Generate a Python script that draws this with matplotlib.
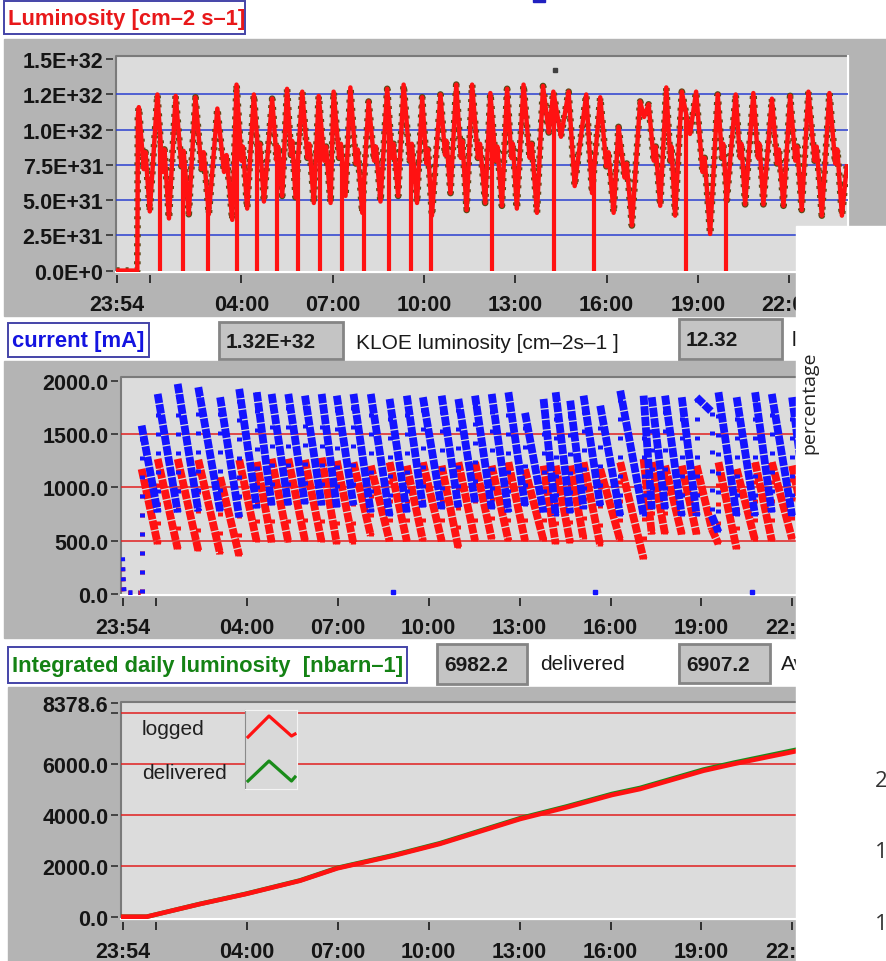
import numpy as np
import matplotlib
matplotlib.use("Agg")
import matplotlib.pyplot as plt
from matplotlib.patches import Rectangle

plt.rcParams["font.family"] = ["Liberation Sans", "DejaVu Sans"]

# time axis: hours after 23:54
time_ticks = [0, 1.1, 4.1, 7.1, 10.1, 13.1, 16.1, 19.1, 22.1]
time_labels = ["23:54", "", "04:00", "07:00", "10:00", "13:00", "16:00", "19:00", "22:00"]

# KLOE luminosity trace, in units of 1E+32 cm-2 s-1
lumi_hours = [0.00, 0.68, 0.70, 0.73, 0.89, 0.95, 1.09, 1.34, 1.51, 1.57, 1.72, 1.94, 2.13, 2.20,
              2.37, 2.59, 2.79, 2.86, 3.03, 3.31, 3.53, 3.61, 3.80, 3.94, 4.10, 4.15, 4.29, 4.51,
              4.66, 4.71, 4.84, 5.11, 5.26, 5.31, 5.44, 5.60, 5.73, 5.77, 5.88, 6.10, 6.27, 6.33,
              6.48, 6.64, 6.82, 6.88, 7.03, 7.13, 7.31, 7.37, 7.52, 7.68, 7.86, 7.92, 8.07, 8.28,
              8.46, 8.52, 8.67, 8.89, 9.05, 9.10, 9.25, 9.43, 9.63, 9.70, 9.87, 10.04, 10.18, 10.23,
              10.36, 10.64, 10.79, 10.84, 10.97, 11.16, 11.31, 11.36, 11.50, 11.68, 11.87, 11.94,
              12.11, 12.28, 12.45, 12.51, 12.66, 12.83, 12.97, 13.02, 13.15, 13.37, 13.57, 13.64,
              13.81, 14.01, 14.20, 14.35, 14.60, 14.85, 15.05, 15.43, 15.62, 15.89, 16.09, 16.16,
              16.33, 16.49, 16.69, 16.76, 16.93, 17.20, 17.33, 17.48, 17.65, 17.71, 17.86, 18.06,
              18.19, 18.23, 18.35, 18.57, 18.84, 19.04, 19.25, 19.32, 19.50, 19.75, 19.89, 19.93,
              20.05, 20.34, 20.48, 20.53, 20.65, 20.92, 21.07, 21.12, 21.25, 21.53, 21.70, 21.76,
              21.91, 22.13, 22.30, 22.36, 22.51, 22.73, 22.93, 23.00, 23.17, 23.42, 23.61, 23.68,
              23.83, 23.99]
lumi_e32 = [0.0, 0.0, 1.10, 1.16, 0.72, 0.84, 0.42, 1.25, 0.70, 0.86, 0.37, 1.24, 0.74, 0.85,
            0.40, 1.23, 0.72, 0.84, 0.40, 1.15, 0.70, 0.82, 0.36, 1.32, 0.78, 0.88, 0.44, 1.25,
            0.80, 0.90, 0.49, 1.22, 0.78, 0.88, 0.53, 1.29, 0.82, 0.92, 0.52, 1.27, 0.80, 0.90,
            0.48, 1.24, 0.78, 0.88, 0.48, 1.27, 0.80, 0.90, 0.53, 1.30, 0.76, 0.86, 0.41, 1.20,
            0.78, 0.88, 0.49, 1.29, 0.80, 0.90, 0.53, 1.32, 0.78, 0.90, 0.48, 1.23, 0.76, 0.86,
            0.39, 1.25, 0.82, 0.92, 0.55, 1.32, 0.80, 0.92, 0.43, 1.32, 0.80, 0.90,
            0.48, 1.26, 0.78, 0.88, 0.46, 1.29, 0.80, 0.90, 0.44, 1.32, 0.80, 0.90,
            0.41, 1.31, 0.98, 1.27, 0.95, 1.27, 0.60, 1.25, 0.55, 1.23, 0.74, 0.84,
            0.41, 1.02, 0.66, 0.76, 0.32, 1.20, 1.09, 1.18, 0.78, 0.88, 0.46, 1.30,
            0.78, 0.88, 0.39, 1.27, 0.97, 1.27, 0.70, 0.80, 0.26, 1.25, 0.80, 0.90,
            0.50, 1.25, 0.80, 0.90, 0.47, 1.26, 0.80, 0.90, 0.47, 1.22, 0.76, 0.86,
            0.46, 1.24, 0.78, 0.88, 0.43, 1.27, 0.78, 0.88, 0.39, 1.26, 0.76, 0.86,
            0.39, 0.74]
# moments where the luminosity reading dropped to zero
lumi_zero_hours = [1.42, 2.17, 3.00, 3.94, 4.60, 5.28, 5.97, 6.67, 7.41, 8.12, 8.95,
                   9.67, 10.33, 12.34, 14.36, 15.69, 18.71, 20.03]
lumi_spike_hours = [14.41]
lumi_spike_e32 = [1.424]

# beam currents per fill [mA]: value after injection and value at the next injection
fill_hours = [0.63, 1.16, 1.82, 2.50, 3.22, 3.85, 4.43, 4.92, 5.47, 6.02, 6.57, 7.07,
              7.62, 8.19, 8.81, 9.38, 9.91, 10.53, 11.08, 11.63, 12.18, 12.73, 13.28, 13.89, 14.29,
              14.77, 15.21, 15.76, 16.42, 17.19, 17.46, 17.90, 18.45, 18.94, 19.44, 19.66,
              20.26, 20.87, 21.42, 22.09]
ele_top_mA = [1581, 1878, 1972, 1941, 1847, 1925, 1894, 1878, 1878, 1862, 1878, 1862,
              1878, 1878, 1831, 1862, 1847, 1862, 1831, 1862, 1878, 1894, 1700, 1831, 1894,
              1815, 1862, 1768, 1909, 1862, 1847, 1862, 1847, 1847, 736, 1894,
              1847, 1894, 1878, 1847]
ele_end_mA = [767, 767, 777, 777, 720, 805, 833, 833, 845, 833, 814, 833,
              767, 736, 767, 814, 800, 814, 861, 800, 767, 830, 767, 736, 760,
              800, 830, 736, 736, 800, 800, 736, 736, 1709, 582, 736,
              736, 767, 736, 736]
pos_top_mA = [1174, 1268, 1268, 1260, 1096, 1260, 1240, 1270, 1270, 1260, 1280, 1250,
              1237, 1205, 1237, 1205, 1237, 1205, 1237, 1237, 1205, 1237, 1170, 1205, 1205,
              1205, 1237, 1174, 1237, 1268, 1237, 1205, 1205, 1205, 610, 1237,
              1174, 1237, 1237, 1205]
pos_end_mA = [470, 423, 408, 376, 360, 486, 486, 486, 500, 486, 470, 470,
              548, 496, 496, 501, 496, 433, 501, 516, 501, 501, 501, 470, 480,
              516, 454, 501, 329, 560, 560, 560, 560, 610, 470, 423,
              501, 501, 516, 516]
last_fill_end = 22.6
ele_start_hours = [0.0, 0.02, 0.05, 0.55]
ele_start_mA = [345, 170, 12, 12]
pos_start_hours = [0.0, 0.02, 0.05, 0.60]
pos_start_mA = [250, 80, 8, 8]
ele_glitch_hours = [8.93, 15.59, 20.77]
ele_glitch_mA = [18, 18, 18]

# integrated daily luminosity [nbarn-1]
integ_hours = [0.0, 0.8, 2.56, 4.07, 5.86, 7.09, 8.94, 10.47, 13.12, 14.66, 16.15,
               17.08, 19.17, 20.16, 22.14, 24.0]
logged_nb = [0, 0, 498, 890, 1412, 1898, 2392, 2855, 3831, 4290, 4773,
             5008, 5725, 5988, 6471, 6907.2]
delivered_nb = [0, 0, 503, 898, 1424, 1915, 2413, 2880, 3862, 4325, 4812,
                5050, 5770, 6036, 6525, 6982.2]

kloe_percentage = "12.32"

W, H = 887, 962
GRAY = "#b4b4b4"
PLOT_BG = "#dcdcdc"
RED = "#ff1212"
BLUE = "#1414ff"
GREEN = "#1a8c1a"

fig = plt.figure(figsize=(W / 100, H / 100), dpi=100)
fig.patch.set_facecolor("white")


def px_axes(l, t, r, b):
    return fig.add_axes([l / W, 1 - b / H, (r - l) / W, (b - t) / H])


# background layer in pixel coordinates
bg = px_axes(0, 0, W, H)
bg.set_xlim(0, W)
bg.set_ylim(H, 0)
bg.axis("off")

bg.add_patch(Rectangle((4, 40), W - 4, 277, color=GRAY))
bg.add_patch(Rectangle((4, 362), W - 4, 277, color=GRAY))
bg.add_patch(Rectangle((8, 688), W - 8, H - 688, color=GRAY))
bg.add_patch(Rectangle((533, 0), 12, 2.5, color="#2020c0"))


def title_box(l, t, r, b, text, color):
    bg.add_patch(Rectangle((l, t), r - l, b - t, facecolor="white", edgecolor="#4444a8", lw=1.4))
    bg.text(l + 4, (t + b) / 2 + 1, text, color=color, fontsize=15.8,
            fontweight="bold", ha="left", va="center")


def value_box(l, t, r, b, text):
    bg.add_patch(Rectangle((l, t), r - l, b - t, facecolor="#c4c4c4", edgecolor="#858585", lw=2))
    bg.text(l + 7, (t + b) / 2 + 1, text, fontsize=15, fontweight="bold",
            color="#1a1a1a", ha="left", va="center")


title_box(4, 2, 245, 35, "Luminosity [cm\u20132 s\u20131]", "#e8181a")
title_box(8, 324, 149, 358, "current [mA]", "#1414e0")
title_box(8, 648, 407, 684, "Integrated daily luminosity  [nbarn\u20131]", "#148214")

value_box(219, 323, 343, 360, f"{max(lumi_e32):.2f}E+32")
bg.text(356, 344, "KLOE luminosity [cm\u20132s\u20131 ]", fontsize=15, color="#1a1a1a", va="center")
value_box(679, 320, 782, 360, kloe_percentage)
bg.text(792, 341, "luminosity", fontsize=15, color="#1a1a1a", va="center")

value_box(437, 645, 527, 685, f"{delivered_nb[-1]:.1f}")
bg.text(540, 665, "delivered", fontsize=15, color="#1a1a1a", va="center")
value_box(679, 645, 770, 684, f"{logged_nb[-1]:.1f}")
bg.text(781, 665, "Average", fontsize=15, color="#1a1a1a", va="center")


def plot_area(box, xlim, ylim, yticks, ylabels, grid, grid_color):
    l, t, r, b = box
    bg.add_patch(Rectangle((l, t), r - l, b - t, color=PLOT_BG))
    bg.plot([l, l, r], [b, t, t], color="#7a7a7a", lw=1.5)
    bg.plot([l, r, r], [b, b, t], color="white", lw=1.5)
    ax = px_axes(l, t, r, b)
    ax.patch.set_visible(False)
    ax.set_xlim(*xlim)
    ax.set_ylim(*ylim)
    for s in ax.spines.values():
        s.set_visible(False)
    ax.spines["left"].set_position(("outward", 2.5))
    ax.spines["bottom"].set_position(("outward", 2.5))
    ax.set_yticks(yticks, ylabels, fontsize=15.5, fontweight="bold", color="#151515")
    ax.set_xticks(time_ticks, time_labels, fontsize=15.5, fontweight="bold", color="#151515")
    ax.tick_params(axis="y", length=5, width=1.2, color="#303030", pad=1.5)
    ax.tick_params(axis="x", length=5.5, width=1.4, color="#303030", pad=8)
    for g in grid:
        ax.axhline(g, color=grid_color, lw=1.1, zorder=1)
    return ax


# luminosity
ax1 = plot_area((116, 57, 848, 273), (-0.02, 24.03), (-0.01, 1.523),
                [0, 0.25, 0.5, 0.75, 1.0, 1.25, 1.5],
                ["0.0E+0", "2.5E+31", "5.0E+31", "7.5E+31", "1.0E+32", "1.2E+32", "1.5E+32"],
                [0.25, 0.5, 0.75, 1.0, 1.25], "#2a3fd0")
ax1.plot(lumi_hours, lumi_e32, color="#5b4a16", lw=4.8, ls=(0, (0.45, 0.9)), zorder=3)
ax1.plot(lumi_hours, lumi_e32, color=RED, lw=3.2, zorder=4)
zero_tops = np.interp(lumi_zero_hours, lumi_hours, lumi_e32)
ax1.vlines(lumi_zero_hours, 0, zero_tops, color=RED, lw=3.0, zorder=4)
ax1.plot(lumi_spike_hours, lumi_spike_e32, "s", color="#404040", ms=2.5, zorder=5)

# beam currents
ax2 = plot_area((121, 378, 850, 596), (-0.05, 24.0), (-9, 2037),
                [0, 500, 1000, 1500, 2000], ["0.0", "500.0", "1000.0", "1500.0", "2000.0"],
                [500, 1000, 1500], "#e02020")


def beam_traces(tops, ends, start_level):
    stops = fill_hours[1:] + [last_fill_end]
    dx, dy, rx, ry = [], [], [], []
    prev = start_level
    for t0, t1, top, end in zip(fill_hours, stops, tops, ends):
        dx += [t0, t1, np.nan]
        dy += [top, end, np.nan]
        rx += [t0, t0, np.nan]
        ry += [prev, top, np.nan]
        prev = end
    return dx, dy, rx, ry


for tops, ends, sh, sv, color in ((pos_top_mA, pos_end_mA, pos_start_hours, pos_start_mA, RED),
                                  (ele_top_mA, ele_end_mA, ele_start_hours, ele_start_mA, BLUE)):
    dx, dy, rx, ry = beam_traces(tops, ends, sv[-1])
    ax2.plot(dx, dy, color=color, lw=5.6, ls=(0, (1.2, 0.16)), zorder=3)
    ax2.plot(rx, ry, color=color, lw=3.6, ls=(0, (0.8, 3.0)), zorder=3)
    ax2.plot(sh, sv, color=color, lw=3.6, ls=(0, (0.8, 1.2)), zorder=3)
ax2.plot(ele_glitch_hours, ele_glitch_mA, "s", color=BLUE, ms=2.5, zorder=3)

# integrated luminosity
ax3 = plot_area((121, 703, 850, 920), (-0.05, 24.0), (-90, 8418),
                [0, 2000, 4000, 6000, 8000, 8378.6],
                ["0.0", "2000.0", "4000.0", "6000.0", "", "8378.6"],
                [2000, 4000, 6000, 8000], "#e02020")
ax3.plot(integ_hours, delivered_nb, color=GREEN, lw=3.3, zorder=3)
ax3.plot(integ_hours, logged_nb, color=RED, lw=3.3, zorder=4)

# legend swatches
lg = px_axes(245, 711, 297, 790)
lg.set_xlim(0, 52)
lg.set_ylim(79, 0)
lg.set_facecolor("#d9d9d9")
lg.set_xticks([])
lg.set_yticks([])
for s in lg.spines.values():
    s.set_color("#f4f4f4")
lg.spines["left"].set_color("#8a8a8a")
lg.plot([3, 24, 46.5, 50], [27, 6, 26, 24], color=RED, lw=2.3)
lg.plot([3, 24, 46.5, 50], [71, 51, 71, 67], color=GREEN, lw=2.3)

# top layer
ov = px_axes(0, 0, W, H)
ov.set_xlim(0, W)
ov.set_ylim(H, 0)
ov.axis("off")
ov.text(142, 730, "logged", fontsize=15, color="#202020", va="center")
ov.text(142, 774, "delivered", fontsize=15, color="#202020", va="center")
ov.add_patch(Rectangle((796, 227), W - 796, H - 227, color="white"))
ov.text(809, 403, "percentage", rotation=90, fontsize=14, family="Open Sans",
        color="#222222", ha="center", va="center")
for y, d in ((782, "2"), (853, "1"), (925, "1")):
    ov.text(875, y, d, fontsize=16, family="Open Sans", color="#333333", va="center")

fig.savefig("out.png", dpi=100)
